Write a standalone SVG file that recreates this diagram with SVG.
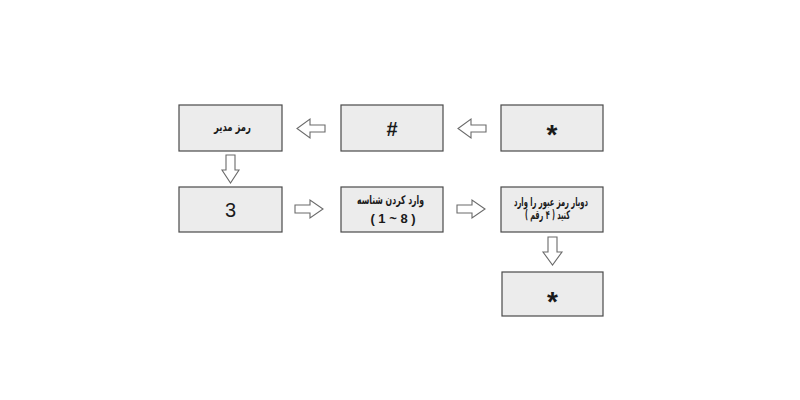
<svg xmlns="http://www.w3.org/2000/svg" width="800" height="400" viewBox="0 0 800 400">
<style>
.box{fill:#ececec;stroke:#4a4a4a;stroke-width:1.2}
.arr{fill:#ffffff;stroke:#6a6a6a;stroke-width:1.1;stroke-linejoin:miter}
.fa{font-family:"DejaVu Sans","Noto Sans",sans-serif;font-weight:bold;font-size:12px;fill:#1a1a1a;text-anchor:middle}
.num{font-family:"Liberation Sans",Arial,sans-serif;font-weight:bold;font-size:13px;fill:#1a1a1a;text-anchor:middle}
.big{font-family:"Liberation Sans",Arial,sans-serif;font-size:20px;fill:#1a1a1a;text-anchor:middle}
.star{font-family:"Liberation Sans",Arial,sans-serif;font-weight:bold;font-size:28px;fill:#1a1a1a;text-anchor:middle}
</style>
<rect width="800" height="400" fill="#ffffff"/>
<g id="n1"><rect class="box" x="179" y="105" width="103" height="46"/><text class="fa" x="232.5" y="131" direction="rtl" textLength="37" lengthAdjust="spacingAndGlyphs">رمز مدیر</text></g>
<g id="n2"><rect class="box" x="341" y="105" width="102" height="46"/><text class="big" x="392" y="136" font-weight="bold">#</text></g>
<g id="n3"><rect class="box" x="501" y="105" width="102" height="46"/><text class="star" x="552" y="144">*</text></g>
<g id="n4"><rect class="box" x="179" y="187" width="103" height="45"/><text class="big" x="230.5" y="217">3</text></g>
<g id="n5"><rect class="box" x="341" y="187" width="102" height="45"/><text class="fa" x="390.5" y="204" direction="rtl" textLength="67" lengthAdjust="spacingAndGlyphs">وارد کردن شناسه</text><text class="num" x="393" y="223">( 1 ~ 8 )</text></g>
<g id="n6"><rect class="box" x="501" y="187" width="102" height="45"/><text class="fa" x="551" y="206" direction="rtl" textLength="74" lengthAdjust="spacingAndGlyphs">دوبار رمز عبور را وارد</text><text class="fa" x="547.5" y="219" font-size="11px" direction="rtl" textLength="45" lengthAdjust="spacingAndGlyphs">کنید ( ۴ رقم )</text></g>
<g id="n7"><rect class="box" x="502" y="272" width="101" height="44"/><text class="star" x="552.5" y="311">*</text></g>
<g id="connectors">
<path class="arr" d="M325,125 L310,125 L310,119 L297,128.5 L310,138 L310,132 L325,132 Z"/>
<path class="arr" d="M486,125 L471,125 L471,119 L458,128.5 L471,138 L471,132 L486,132 Z"/>
<path class="arr" d="M226,155 L226,170 L222,170 L230.5,183 L239,170 L235,170 L235,155 Z"/>
<path class="arr" d="M295,205 L310,205 L310,200 L323,209 L310,218 L310,213 L295,213 Z"/>
<path class="arr" d="M457,205 L472,205 L472,200 L485,209 L472,218 L472,213 L457,213 Z"/>
<path class="arr" d="M548,237 L548,252 L543,252 L552.5,265 L562,252 L557,252 L557,237 Z"/>
</g>
</svg>
